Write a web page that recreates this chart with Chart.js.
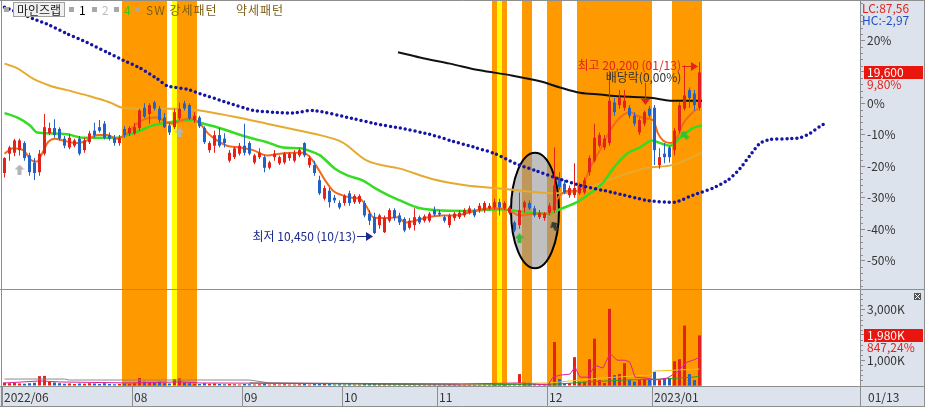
<!DOCTYPE html>
<html>
<head>
<meta charset="utf-8">
<script src="https://cdn.jsdelivr.net/npm/chart.js@4.4.1/dist/chart.umd.min.js"></script>
<style>
  html, body { margin: 0; padding: 0; background: #fff; }
  #c { display: block; }
</style>
</head>
<body>
<canvas id="c" width="925" height="407"></canvas>
<script>
// 마인즈랩 daily chart, 2022/06/24 - 2023/01/13

// candle index -> [open, high, low, close]
const candles = [
  [13900,14800,13650,14750],[15000,15450,14600,15350],[15050,15850,14850,15750],[15200,15850,14900,15750],
  [15600,15700,14600,14750],[14900,15050,13750,13950],[14500,14750,13500,13900],[13950,15200,13750,15000],
  [15000,17250,14900,16500],[16150,16750,16050,16450],[16450,16950,15900,16050],[16400,16500,15750,15850],
  [15850,16000,15300,15450],[15350,16100,15250,15900],[15450,15850,15350,15750],[15850,16000,14900,15000],
  [15200,15900,15050,15750],[15650,16300,15550,16150],[16300,16750,15900,16050],[16500,16900,16200,16300],
  [16700,16850,15800,15900],[16050,16200,15750,15850],[15900,16050,15450,15600],[15600,16050,15450,15900],
  [16400,16550,15900,16050],[16150,16550,16000,16450],[16150,16750,16050,16500],[16450,17550,16300,17450],
  [17600,17850,17000,17100],[17250,17850,16700,17750],[17900,18000,17450,17550],[17550,17700,16750,16900],
  [17050,17300,16450,16500],[16600,16750,16050,16200],[16500,17550,16400,17350],[17000,17900,16900,17550],
  [17850,18000,17450,17550],[17750,17850,16900,17000],[16900,17350,16750,17150],[17050,17150,16450,16550],
  [16450,16550,15550,15650],[15200,15700,15050,15600],[15450,16300,15050,16050],[16050,16450,15350,15450],
  [15850,16150,15350,15600],[14600,15200,14500,15050],[14800,15400,14700,15300],[15000,15600,14900,15450],
  [15450,16700,14900,15050],[15600,15700,14900,15000],[14500,15000,14400,14900],[14800,15300,14700,15050],
  [14800,14900,13950,14200],[14200,14600,14100,14500],[14800,15200,14600,15000],[14450,14900,14350,14800],
  [14500,15100,14400,15000],[14750,15100,14600,15000],[14600,15200,14500,15050],[14900,15300,14800,15200],
  [15600,15650,14800,14900],[14350,14900,14200,14750],[14350,14600,13750,13900],[13500,13750,12650,12750],
  [12450,13200,12350,13050],[12900,13050,11950,12250],[12500,12650,12200,12350],[12200,12350,11850,11950],
  [12200,12700,12050,12600],[12750,12900,12050,12200],[12250,12700,12150,12600],[12250,12700,12150,12600],
  [12200,12350,11400,11500],[11600,11800,10950,11200],[11400,11650,10450,10500],[10950,11600,10750,11500],
  [10550,11500,10500,11350],[11200,11900,11100,11800],[11800,11900,11200,11350],[11500,11650,10950,11100],
  [11300,11400,10550,10650],[10800,11350,10700,11200],[10950,11900,10650,11400],[11400,11500,11000,11100],
  [11200,11550,11100,11450],[11200,11700,11100,11600],[11800,12000,11450,11550],[11650,11800,11450,11550],
  [11400,11500,11100,11200],[10950,11600,10800,11500],[11350,11700,11200,11600],[11400,11800,11300,11650],
  [11500,11900,11400,11800],[11650,12050,11550,11900],[11800,11900,11400,11500],[11800,12200,11650,12050],
  [11800,12300,11650,12200],[11900,12200,11800,12050],[11950,12450,11800,12250],[12250,12450,11500,11950],
  [11900,12300,11800,12200],[11650,12050,11550,11950],[11100,11200,10550,10650],[10950,12800,10750,11800],
  [11950,12350,11650,12250],[12200,12350,11800,11900],[11900,12050,11400,11500],[11400,11800,11300,11650],
  [11350,11700,11200,11600],[11650,12200,11500,12050],[11800,15350,11650,13200],[13600,13950,12950,13100],
  [13300,13500,12700,12800],[12650,13200,12500,13050],[12650,14450,12500,13050],[12750,13350,12650,13200],
  [12800,13650,12700,13500],[13950,14900,13750,14750],[14600,16700,14500,15900],[15450,16200,15350,16050],
  [15350,16050,15200,15850],[15600,19700,15450,18000],[17900,18150,17150,17350],[17750,18600,17550,18200],
  [17600,18600,17450,18000],[17600,17750,17000,17150],[17150,17350,16550,16700],[16200,17000,16050,16900],
  [16700,17450,16550,17350],[17550,17700,17050,17150],[17600,17750,14350,15200],[14350,15300,14150,14800],
  [15000,15600,14450,14800],[15350,15450,14500,14800],[15200,16450,14900,16300],[16300,17900,16150,17750],
  [17550,20000,17450,18300],[18600,18750,17600,18150],[18400,18600,17450,17750],[17600,20200,17450,19600]
];

// volume, thousands of shares
const volumes = [
  120,90,100,80,70,90,110,370,380,150, 120,90,70,80,60,80,70,90,80,60,
  90,60,50,60,80,70,90,300,150,120, 110,150,90,80,250,280,120,90,70,60,
  90,70,80,60,50,60,50,40,60,50, 40,50,70,40,50,40,50,40,40,50,
  60,40,70,90,60,80,40,50,40,50, 40,40,60,70,90,80,70,60,50,50,
  60,50,70,40,40,40,50,40,40,60, 40,40,40,50,40,40,50,40,60,80,
  60,60,100,450,120,110,70,60,60,90, 1720,250,100,100,1120,150,150,1040,1850,215,
  100,3030,410,450,880,215,150,215,270,270, 540,215,270,300,960,1040,2370,450,215,1980
];

// month starts (candle index) and their labels
const monthStarts = [0, 26, 48, 68, 87, 109, 130];
const monthLabels = ['2022/06', '08', '09', '10', '11', '12', '2023/01'];
const lastDate = '01/13';

// price axis is shown as % from this base
const basePrice = 17850;
const pctTicks = [20, 10, 0, -10, -20, -30, -40, -50];
const volTicks = [1000, 2000, 3000];
const lastChangePct = '9,80%';
const volChangePct = '847,24%';
const lcText = 'LC:87,56';
const hcText = 'HC:-2,97';

// moving averages: [candle index, price]
const ma5 = [[0,15000],[1.7,15300],[3.7,15200],[5.5,14600],[6.5,14550],[7.5,15000],[8.7,15650],[10.1,15850],[11.7,15750],[13.1,15650],[14.7,15600],[16.5,15750],[18.5,16050],[20.5,16050],[22.5,15850],[24.5,16150],[26.5,16700],[28.5,17000],[30.5,17050],[32.5,16750],[33.7,16700],[35.5,16900],[37.1,17000],[39.1,16700],[40.7,16150],[42.5,15750],[44.5,15450],[47.1,15350],[49.7,15200],[52.5,14900],[55.1,15000],[57.7,15050],[59.7,15050],[61.1,14800],[62.7,14150],[64.1,13500],[65.7,12900],[67.5,12650],[69.5,12500],[71.1,12450],[72.5,11950],[73.7,11400],[74.7,11350],[76.7,11350],[78.7,11400],[80.1,11100],[82.1,11200],[84.7,11400],[87.5,11500],[90.1,11500],[92.7,11650],[95.5,11850],[98.1,11900],[100.7,11800],[103.1,11500],[106.1,11600],[108.7,11600],[111.1,12650],[113.1,12900],[115.1,12900],[117.1,14200],[119.1,15200],[121.1,16300],[123.1,17050],[125.1,17350],[126.5,17150],[128.1,17000],[129.7,16900],[130.7,16150],[131.7,15750],[133.1,15600],[134.5,15900],[135.7,16700],[137.5,17300],[138.7,17550]];
const ma20 = [[0,17300],[2.5,17050],[5.1,16600],[6.5,16200],[9.1,16150],[12.5,16100],[15.7,15900],[19.1,15900],[22.5,15900],[24.5,16050],[27.1,16300],[29.7,16600],[32.5,16750],[34.5,16850],[37.7,16900],[39.1,16750],[42.5,16500],[45.7,16200],[49.1,15900],[52.5,15650],[55.7,15350],[59.1,15300],[61.1,15150],[63.1,14900],[66.1,14150],[68.7,13750],[71.5,13500],[74.1,13050],[76.7,12650],[79.1,12350],[82.5,11950],[86.1,11800],[92.5,11750],[99.1,11850],[104.7,11650],[108.7,11600],[111.5,11900],[114.5,12250],[117.1,12750],[119.7,13350],[121.7,14150],[124.5,15000],[127.1,15350],[129.5,15750],[131.1,15600],[133.1,15450],[135.1,15900],[137.7,16450],[139.5,16600]];
const ma60 = [[0,20100],[2.5,19850],[5.7,19250],[9.1,18850],[12.5,18600],[16.5,18300],[21.1,17900],[23.7,17600],[28.5,17550],[34.5,17550],[39.1,17450],[45.7,17100],[52.5,16700],[59.1,16300],[63.1,16050],[67.5,15650],[72.5,14600],[79.1,14150],[85.7,13550],[92.5,13200],[98.1,13050],[103.5,12900],[110.1,12750],[115.1,12900],[121.7,13600],[128.5,14200],[133.5,14350],[139.5,15050]];
const ma120 = [[78.7,20750],[83.1,20450],[89.1,20100],[95.1,19720],[101.1,19450],[107.1,19100],[111.1,18750],[115.1,18450],[119.1,18350],[123.1,18250],[129.7,18150],[133.1,18000],[139.5,18000]];
// lagging span, extends past the last candle
const span = [[0,23300],[5.7,22650],[9.1,22270],[12.5,21800],[16.5,21300],[20.5,20750],[23.7,20300],[27.1,19850],[30.5,19250],[32.5,18850],[36.5,18650],[39.1,18400],[44.5,17900],[49.7,17450],[53.7,17350],[57.7,17300],[61.7,17450],[69.5,17000],[74.1,16700],[79.1,16450],[85,16100],[89.1,15750],[94.1,15350],[98.1,15000],[102.1,14450],[106.1,14050],[110.1,13650],[115.1,13200],[121.7,12800],[128.5,12350],[134.1,12250],[137.7,12650],[141.7,13050],[144.7,13500],[147.1,14150],[149.1,14900],[151.1,15600],[153.1,15800],[157.1,15850],[159.1,15900],[161.1,16150],[163.1,16550],[164.3,16750]];

// volume averages: [candle index, thousands]
const volMa5 = [[0,100],[7.1,180],[11.1,140],[25.1,100],[35.1,140],[39.1,100],[91.1,60],[103.1,100],[105.7,60],[108.7,20],[109.7,330],[111.1,410],[113.1,450],[114.1,730],[115.1,330],[116.7,330],[118.1,800],[119.7,690],[121.1,1270],[122.5,1000],[124.1,1000],[125.1,920],[126.1,330],[128.5,290],[130.1,220],[132.5,290],[134.5,530],[136.5,920],[137.7,1000],[139.1,1120]];
const volMa20 = [[91,60],[109,100],[119,290],[129,410],[130,570],[139,650]];
const volMa60 = [[49,100],[91,20],[111,60],[116.6,140],[124.5,220],[131,250],[137.7,330],[139.1,370]];
const volMa120 = [[0,255],[12,255],[13,216],[49,216],[53,100],[91,60]];

// pattern bands: [first index, last index, kind]
const bands = [[24,32,'o'],[34,34,'y'],[35,38,'o'],[98,98,'o'],[99,99,'y'],[100,100,'o'],[104,105,'o'],[109,111,'o'],[115,129,'o'],[134,139,'o']];
// circled area (index / price)
const circleBox = {from: 101.3, to: 110.9, high: 15050, low: 8500};
// signal arrows
const markerIdx = [3, 35, 103, 110, 136];
const markerPrice = [14100, 16200, 10200, 10900, 16050];
const markerKind = ['gray', 'gray', 'green', 'dark', 'greenTilt'];
const dividendIdx = 128;
const dividendText = '배당락(0,00%)';

const FONT = '"Noto Sans CJK KR", "Noto Sans", sans-serif';
const AXIS_BG = '#dde3ed';
const UP = '#e3221b';
const DOWN = '#2262c6';

const colorOf = c => (c[3] >= c[0] ? UP : DOWN);
const pts = arr => arr.map(([x, y]) => ({x, y}));

function makeArrow(color, rot) {
  const c = document.createElement('canvas');
  c.width = 10; c.height = 10;
  const g = c.getContext('2d');
  g.translate(5, 5); g.rotate(rot * Math.PI / 180); g.translate(-5, -5);
  g.fillStyle = color;
  g.beginPath();
  g.moveTo(5, 0); g.lineTo(10, 5); g.lineTo(7, 5); g.lineTo(7, 10);
  g.lineTo(3, 10); g.lineTo(3, 5); g.lineTo(0, 5); g.closePath();
  g.fill();
  return c;
}
const arrows = {
  gray: makeArrow('#b4b4b4', 0),
  green: makeArrow('#3cb83c', 0),
  dark: makeArrow('#3a3a3a', -30),
  greenTilt: makeArrow('#2ec42e', -45)
};

function hiLoIndex() {
  let hi = 0, lo = 0;
  candles.forEach((c, i) => {
    if (c[1] > candles[hi][1]) hi = i;
    if (c[2] < candles[lo][2]) lo = i;
  });
  return {hi, lo};
}
const fmt = n => n.toLocaleString('en-US');

// no label overhang padding, the panes fill the canvas edge to edge
const noPad = s => { s.paddingTop = 0; s.paddingBottom = 0; s.paddingLeft = 0; s.paddingRight = 0; };

const chrome = {
  id: 'chrome',
  beforeDraw(chart) {
    const {ctx, chartArea: a, width, height} = chart;
    ctx.save();
    ctx.fillStyle = '#fff';
    ctx.fillRect(0, 0, width, height);
    ctx.fillStyle = AXIS_BG;
    ctx.fillRect(a.right, 0, width - a.right, height);
    ctx.fillRect(0, a.bottom, a.right, height - a.bottom);
    ctx.restore();
  },
  beforeDatasetsDraw(chart) {
    const {ctx, chartArea: a, scales} = chart;
    const xs = scales.x, ys = scales.y;
    ctx.save();
    bands.forEach(([s, e, k]) => {
      const l = xs.getPixelForValue(s - 0.5), r = xs.getPixelForValue(e + 0.5);
      ctx.fillStyle = k === 'y' ? '#ffff00' : '#ff9900';
      ctx.fillRect(l, a.top, r - l, a.bottom - a.top);
    });
    // ellipse
    const l = xs.getPixelForValue(circleBox.from), r = xs.getPixelForValue(circleBox.to);
    const t = ys.getPixelForValue(circleBox.high), b = ys.getPixelForValue(circleBox.low);
    ctx.beginPath();
    ctx.ellipse((l + r) / 2, (t + b) / 2, (r - l) / 2, (b - t) / 2, 0, 0, Math.PI * 2);
    ctx.fillStyle = 'rgba(150,150,150,0.6)';
    ctx.fill();
    ctx.lineWidth = 2;
    ctx.strokeStyle = '#000';
    ctx.stroke();
    ctx.restore();
  },
  afterDatasetsDraw(chart) {
    const {ctx, scales} = chart;
    const xs = scales.x, ys = scales.y;
    const {hi, lo} = hiLoIndex();
    ctx.save();
    ctx.font = '12px ' + FONT;
    ctx.textBaseline = 'middle';
    const arrowTo = (tx, ty, color) => {
      ctx.strokeStyle = color; ctx.fillStyle = color; ctx.lineWidth = 1;
      ctx.beginPath(); ctx.moveTo(tx - 16, ty + 0.5); ctx.lineTo(tx - 5, ty + 0.5); ctx.stroke();
      ctx.beginPath(); ctx.moveTo(tx, ty + 0.5); ctx.lineTo(tx - 7, ty - 4); ctx.lineTo(tx - 7, ty + 5); ctx.closePath(); ctx.fill();
    };
    // highest
    let tx = Math.round(xs.getPixelForValue(hi)) - 2, ty = Math.round(ys.getPixelForValue(candles[hi][1])) + 4;
    arrowTo(tx, ty, '#e3221b');
    ctx.fillStyle = '#e3221b'; ctx.textAlign = 'right';
    ctx.fillText('최고 ' + fmt(candles[hi][1]) + ' (' + lastDate + ')', tx - 17, ty - 1);
    // lowest
    tx = Math.round(xs.getPixelForValue(lo)) - 2; ty = Math.round(ys.getPixelForValue(candles[lo][2])) + 2;
    arrowTo(tx, ty, '#1c2a8c');
    ctx.fillStyle = '#1c2a8c';
    ctx.fillText('최저 ' + fmt(candles[lo][2]) + ' (10/13)', tx - 17, ty);
    // dividend
    const dx = Math.round(xs.getPixelForValue(dividendIdx)) + 0.5;
    const dy = Math.round(ys.getPixelForValue(candles[dividendIdx][1])) - 5;
    ctx.strokeStyle = '#e3221b'; ctx.fillStyle = '#e3221b';
    ctx.beginPath(); ctx.moveTo(dx, dy - 22); ctx.lineTo(dx, dy - 5); ctx.stroke();
    ctx.beginPath(); ctx.moveTo(dx - 4.5, dy - 6); ctx.lineTo(dx + 4.5, dy - 6); ctx.lineTo(dx, dy); ctx.closePath(); ctx.fill();
    ctx.fillStyle = '#333'; ctx.textAlign = 'center';
    ctx.fillText(dividendText, dx - 2, dy - 28);
    ctx.restore();
  },
  afterDraw(chart) {
    const {ctx, chartArea: a, width, height, scales} = chart;
    const xs = scales.x, ys = scales.y, yv = scales.yv;
    ctx.save();
    ctx.strokeStyle = '#8e8e8e'; ctx.lineWidth = 1;
    ctx.beginPath();
    ctx.moveTo(0, 0.5); ctx.lineTo(width, 0.5);
    ctx.moveTo(1.5, 0); ctx.lineTo(1.5, height);
    ctx.moveTo(0, Math.round(ys.bottom) + 0.5); ctx.lineTo(width, Math.round(ys.bottom) + 0.5);
    ctx.moveTo(0, a.bottom + 0.5); ctx.lineTo(width, a.bottom + 0.5);
    ctx.moveTo(0, height - 0.5); ctx.lineTo(width, height - 0.5);
    ctx.moveTo(a.right + 0.5, 0); ctx.lineTo(a.right + 0.5, height);
    ctx.moveTo(width - 0.5, 0); ctx.lineTo(width - 0.5, height);
    monthStarts.forEach(i => {
      const px = Math.round(xs.getPixelForValue(i - 0.5)) + 0.5;
      ctx.moveTo(px, a.bottom); ctx.lineTo(px, height);
    });
    // minor ticks
    for (let p = -58; p <= 32; p += 2) {
      if (p % 10 === 0) continue;
      const py = Math.round(ys.getPixelForValue(basePrice * (1 + p / 100))) + 0.5;
      ctx.moveTo(a.right, py); ctx.lineTo(a.right + 3, py);
    }
    for (let v = 200; v <= 3800; v += 200) {
      if (v % 1000 === 0) continue;
      const py = Math.round(yv.getPixelForValue(v)) + 0.5;
      ctx.moveTo(a.right, py); ctx.lineTo(a.right + 3, py);
    }
    ctx.stroke();

    ctx.font = '12px ' + FONT;
    ctx.textBaseline = 'middle';
    ctx.textAlign = 'left';
    // right axis notes
    ctx.fillStyle = '#e3221b'; ctx.fillText(lcText, a.right + 2, 8);
    ctx.fillStyle = '#2050c0'; ctx.fillText(hcText, a.right + 2, 20);
    const tag = (py, txt, sub) => {
      py = Math.round(py);
      ctx.fillStyle = '#e8160e';
      ctx.fillRect(a.right + 4, py - 6, 59, 13);
      ctx.fillStyle = '#fff'; ctx.fillText(txt, a.right + 7, py + 0.5);
      ctx.fillStyle = '#e3221b'; ctx.fillText(sub, a.right + 7, py + 12);
    };
    const last = candles[candles.length - 1];
    tag(ys.getPixelForValue(last[3]), fmt(last[3]), lastChangePct);
    const lastVol = volumes[volumes.length - 1];
    tag(yv.getPixelForValue(lastVol), fmt(lastVol) + 'K', volChangePct);
    ctx.fillStyle = '#333'; ctx.fillText(lastDate, a.right + 8, a.bottom + 11);
    // close icon of the volume pane
    ctx.fillStyle = '#555'; ctx.fillRect(width - 11, ys.bottom + 4, 7, 7);
    ctx.strokeStyle = '#fff';
    ctx.beginPath();
    ctx.moveTo(width - 10, ys.bottom + 5); ctx.lineTo(width - 5, ys.bottom + 10);
    ctx.moveTo(width - 5, ys.bottom + 5); ctx.lineTo(width - 10, ys.bottom + 10);
    ctx.stroke();

    // legend
    ctx.fillStyle = '#f0f0f0'; ctx.fillRect(13.5, 2.5, 51, 14);
    ctx.strokeStyle = '#a0a0a0'; ctx.strokeRect(13.5, 2.5, 51, 14);
    ctx.fillStyle = '#222'; ctx.fillText('마인즈랩', 17, 10);
    const sq = x => { ctx.fillStyle = '#a8a8a8'; ctx.fillRect(x, 7, 5, 5); };
    sq(4); sq(69); sq(92); sq(114); sq(135);
    ctx.fillStyle = '#000'; ctx.fillText('1', 79, 10);
    ctx.fillStyle = '#bdbdbd'; ctx.fillText('2', 102, 10);
    ctx.fillStyle = '#3fc21a'; ctx.fillText('4', 124, 10);
    ctx.fillStyle = '#7d5e12';
    ctx.letterSpacing = '1px';
    ctx.fillText('SW 강세패턴', 146, 10);
    ctx.fillText('약세패턴', 236, 10);
    ctx.restore();
  }
};

const tickFont = {family: FONT, size: 12};

new Chart(document.getElementById('c'), {
  type: 'bar',
  data: {
    datasets: [
      {type: 'line', data: pts(span), yAxisID: 'y', borderColor: '#1414a6', borderWidth: 3.5,
       borderDash: [0, 5], borderCapStyle: 'round', pointRadius: 0, tension: 0.2, order: 0},
      {type: 'line', data: markerIdx.map((x, i) => ({x, y: markerPrice[i]})), yAxisID: 'y',
       showLine: false, pointStyle: markerKind.map(k => arrows[k]), pointRadius: 5, order: 1},
      {type: 'bar', data: candles.map((c, i) => ({x: i, y: [Math.min(c[0], c[3]), Math.max(c[0], c[3])]})),
       yAxisID: 'y', backgroundColor: candles.map(colorOf), barThickness: 3, grouped: false,
       minBarLength: 1, inflateAmount: 0, borderWidth: 0, order: 3},
      {type: 'bar', data: candles.map((c, i) => ({x: i, y: [c[2], c[1]]})),
       yAxisID: 'y', backgroundColor: candles.map(colorOf), barThickness: 1, grouped: false,
       inflateAmount: 0, borderWidth: 0, order: 4},
      {type: 'line', data: pts(ma5), yAxisID: 'y', borderColor: '#f26a1b', borderWidth: 2,
       pointRadius: 0, cubicInterpolationMode: 'monotone', order: 5},
      {type: 'line', data: pts(ma20), yAxisID: 'y', borderColor: '#34dc22', borderWidth: 2.5,
       pointRadius: 0, cubicInterpolationMode: 'monotone', order: 6},
      {type: 'line', data: pts(ma60), yAxisID: 'y', borderColor: '#e6aa30', borderWidth: 2,
       pointRadius: 0, cubicInterpolationMode: 'monotone', order: 7},
      {type: 'line', data: pts(ma120), yAxisID: 'y', borderColor: '#111', borderWidth: 2,
       pointRadius: 0, cubicInterpolationMode: 'monotone', order: 8},
      {type: 'line', data: pts(volMa5), yAxisID: 'yv', borderColor: '#e0209a', borderWidth: 1,
       pointRadius: 0, order: 9},
      {type: 'line', data: pts(volMa20), yAxisID: 'yv', borderColor: '#f0c020', borderWidth: 1,
       pointRadius: 0, order: 10},
      {type: 'line', data: pts(volMa60), yAxisID: 'yv', borderColor: '#2f9a2f', borderWidth: 1,
       pointRadius: 0, order: 11},
      {type: 'line', data: pts(volMa120), yAxisID: 'yv', borderColor: '#8a8a8a', borderWidth: 1,
       pointRadius: 0, order: 12},
      {type: 'bar', data: volumes.map((v, i) => ({x: i, y: v})), yAxisID: 'yv',
       backgroundColor: candles.map(colorOf), barThickness: 3, grouped: false,
       inflateAmount: 0, borderWidth: 0, order: 13}
    ]
  },
  options: {
    responsive: false,
    animation: false,
    events: [],
    layout: {autoPadding: false, padding: {left: 2, top: 1, right: 0, bottom: 0}},
    plugins: {legend: {display: false}, tooltip: {enabled: false}},
    scales: {
      x: {
        type: 'linear', min: -0.5, max: 171.1, offset: false,
        grid: {display: false, drawTicks: false}, border: {display: false},
        afterBuildTicks: s => { s.ticks = monthStarts.map(i => ({value: i - 0.1})); },
        afterFit: s => { s.height = 21; noPad(s); },
        ticks: {autoSkip: false, maxRotation: 0, align: 'start', padding: 4, color: '#333', font: tickFont,
                callback: (v, i) => monthLabels[i]}
      },
      y: {
        type: 'linear', position: 'right', stack: 'pane', stackWeight: 288,
        min: 7330, max: 23650,
        grid: {drawOnChartArea: false, tickLength: 5, color: '#8e8e8e'},
        border: {color: '#8e8e8e'},
        afterBuildTicks: s => { s.ticks = pctTicks.map(p => ({value: basePrice * (1 + p / 100)})); },
        afterFit: s => { s.width = 65; noPad(s); },
        ticks: {padding: 2, color: '#333', font: tickFont,
                callback: v => Math.round((v / basePrice - 1) * 100) + '%'}
      },
      yv: {
        type: 'linear', position: 'right', stack: 'pane', stackWeight: 97,
        min: -20, max: 3815,
        grid: {drawOnChartArea: false, tickLength: 5, color: '#8e8e8e'},
        border: {color: '#8e8e8e'},
        afterBuildTicks: s => { s.ticks = volTicks.map(v => ({value: v})); },
        afterFit: s => { s.width = 65; noPad(s); },
        ticks: {padding: 2, color: '#333', font: tickFont, callback: v => fmt(v) + 'K'}
      }
    }
  },
  plugins: [chrome]
});
</script>
</body>
</html>
